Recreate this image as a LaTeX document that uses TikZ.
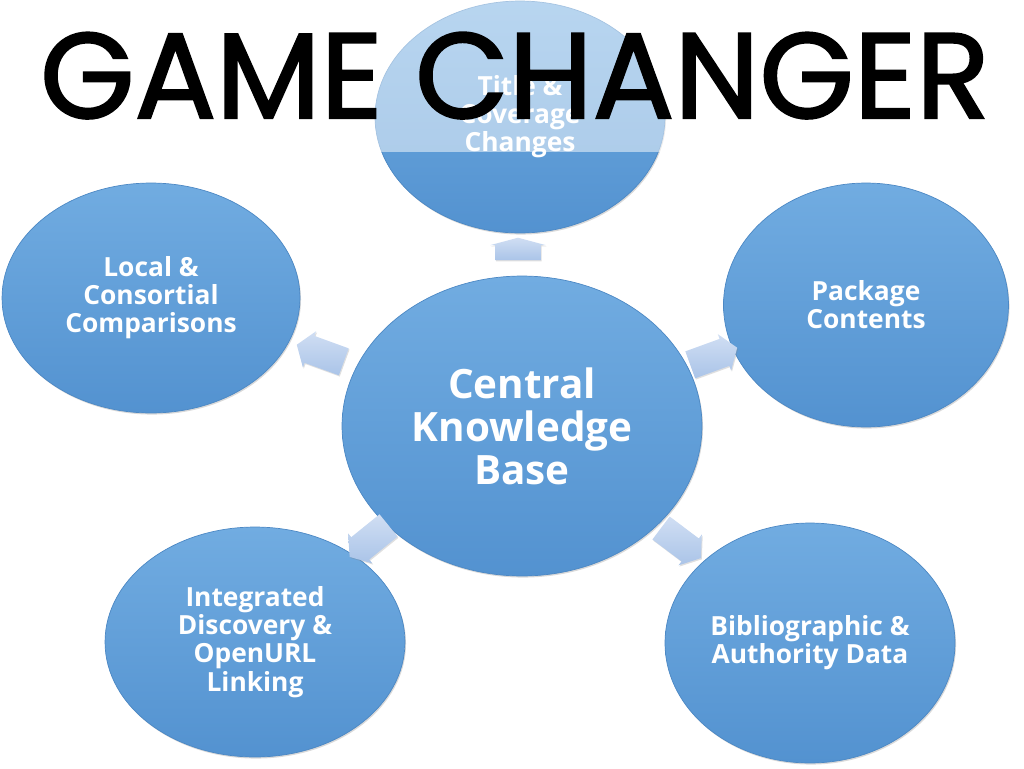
\documentclass[tikz,border=0pt]{standalone}
\usepackage{fontspec}
\setmainfont{Open Sans}
\newfontfamily\titlefont{Poppins}[FakeBold=1.8]
\usepackage{tikz}
\usetikzlibrary{shapes,shapes.arrows,shadows,calc,positioning}
\definecolor{bubbletop}{RGB}{113,172,225}
\definecolor{bubblebot}{RGB}{83,146,208}
\definecolor{bubblerim}{RGB}{76,136,196}
\definecolor{arrowtop}{RGB}{208,222,243}
\definecolor{arrowbot}{RGB}{170,196,232}

\begin{document}
\begin{tikzpicture}[x=0.02cm,y=-0.02cm]
	\tikzstyle{bubble}=[ellipse,inner sep=0pt,top color=bubbletop,bottom color=bubblebot,
		draw=bubblerim,line width=0.4pt,
		drop shadow={opacity=0.3,shadow xshift=0.6pt,shadow yshift=-0.9pt},
		text=white,align=center,font=\bfseries\fontsize{15}{16}\selectfont]
	\tikzstyle{bigbubble}=[bubble,font=\bfseries\fontsize{23}{24.4}\selectfont]
	\tikzstyle{flow}=[single arrow,draw=none,inner sep=0.28cm,top color=arrowtop,bottom color=arrowbot,
		single arrow head extend=0.1cm,single arrow tip angle=110,minimum height=1cm,
		drop shadow={opacity=0.25,shadow xshift=0.5pt,shadow yshift=-0.7pt}]
	\useasboundingbox (0,0) rectangle (1024,768);

	%% Bubbles
	\node [bubble,minimum width=5.8cm,minimum height=4.64cm] (coverage) at (520,117) {Title \&\\Coverage\\Changes};
	\node [bubble,minimum width=5.96cm,minimum height=4.6cm] (local) at (151,298) {Local \&\\Consortial\\Comparisons};
	\node [bubble,minimum width=5.7cm,minimum height=4.88cm] (package) at (866,305) {Package\\Contents};
	\node [bigbubble,minimum width=7.2cm,minimum height=6cm] (kb) at (522,426) {Central\\Knowledge\\Base};
	\node [bubble,minimum width=6cm,minimum height=4.6cm] (discovery) at (255,642) {Integrated\\Discovery \&\\OpenURL\\Linking};
	\node [bubble,minimum width=5.8cm,minimum height=4.8cm] (biblio) at (810,643) {Bibliographic \&\\Authority Data};

	%% Arrows out of the knowledge base
	\node [flow,rotate=90,inner ysep=0.45cm,inner xsep=0.05cm,
		single arrow tip angle=150,minimum height=0.45cm] (a-coverage) at (518,252) {};
	\node [flow,rotate=160] (a-local) at (325,355) {};
	\node [flow,rotate=20] (a-package) at (709,358) {};
	\node [flow,rotate=219] (a-discovery) at (373,538) {};
	\node [flow,rotate=-37] (a-biblio) at (677,540) {};

	%% Title band
	\fill [white,opacity=0.5] (0,0) rectangle (1024,152);
	\node [font=\titlefont\fontsize{69}{69}\selectfont,inner sep=0pt,anchor=base] (title) at (515,118) {GAME CHANGER};
\end{tikzpicture}
\end{document}
